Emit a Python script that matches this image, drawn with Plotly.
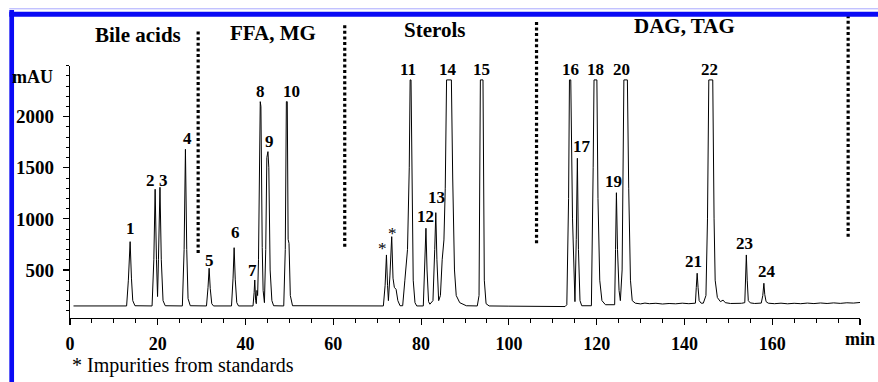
import plotly.graph_objects as go

# ---------------- data ----------------
# chromatogram vertices: retention time (min) and absorbance (mAU)
trace_time = [
    0.8, 3.5, 3.8, 4.1, 5.4, 5.7, 6.0,
    12.9, 13.3, 13.7, 14.0, 14.3, 14.8,
    18.7, 19.1, 19.4, 19.7, 19.95, 20.15, 20.5, 20.8, 21.2, 21.7,
    25.6, 26.0, 26.3, 26.6, 26.9, 27.4,
    31.1, 31.45, 31.7, 31.95, 32.3, 32.7,
    36.8, 37.15, 37.4, 37.65, 38.0, 38.4,
    41.7, 41.95, 42.1, 42.3, 42.45, 42.6, 42.75, 42.95, 43.2, 43.35, 43.5, 43.65, 43.8, 44.0, 44.3,
    44.6, 44.85, 45.1, 45.3, 45.6, 46.0, 46.4,
    48.7, 49.05, 49.3, 49.5, 49.7, 49.9, 50.2, 50.7,
    71.4, 71.8, 72.1, 72.35, 72.55, 72.9, 73.3, 73.6, 73.9, 74.3, 74.7, 75.2,
    75.8, 76.3, 76.9, 77.3, 77.5, 77.7, 77.9, 78.2, 78.6, 79.0,
    80.5, 80.85, 81.1, 81.35, 81.7, 82.0, 82.7, 83.1, 83.35, 83.6, 84.0, 84.4, 84.8, 85.2, 85.5,
    85.8, 86.9, 87.2, 87.6, 88.0, 88.8, 90.3,
    92.8, 93.2, 93.5, 94.1, 94.4, 94.8, 95.5,
    100.0, 105.0, 112.8,
    113.2, 113.6, 113.8, 114.1, 114.5, 114.9, 115.05, 115.35, 115.6, 115.85, 116.2, 116.6,
    118.8, 119.2, 119.4, 120.05, 120.3, 120.7, 121.2, 122.0, 123.5,
    124.1, 124.3, 124.5, 124.75, 125.1, 125.4, 125.8, 126.2, 127.0, 127.3, 127.7, 128.1, 128.8,
    130.0, 131.0, 132.0, 133.5, 135.0, 136.5, 138.0, 139.5, 141.0, 142.3,
    142.5, 142.7, 142.9, 143.1, 143.35, 143.8,
    144.3, 144.9, 145.25, 145.55, 146.45, 146.75, 147.0, 147.5, 148.2, 148.8, 149.3, 150.5,
    151.5, 153.0, 153.75, 153.95, 154.1, 154.3, 154.55, 155.0,
    156.0, 157.5, 157.85, 158.1, 158.3, 158.6, 159.1,
    160.5, 162.0, 163.5, 165.0, 166.5, 168.0, 169.5, 171.0, 172.5, 174.0, 175.5, 177.0, 178.5, 180.0,
]
trace_mau = [
    148, 148, 153, 148, 148, 151, 148,
    148, 400, 777, 420, 200, 150,
    148, 600, 1290, 600, 240, 600, 1309, 600, 200, 150,
    148, 700, 1681, 700, 220, 150,
    148, 330, 517, 320, 170, 148,
    148, 420, 718, 410, 180, 148,
    148, 280, 402, 200, 170, 300, 250, 600, 2100, 2147, 2100, 800, 720, 300, 180,
    700, 1600, 1658, 1500, 500, 200, 150,
    148, 700, 2147, 2147, 800, 760, 250, 150,
    148, 350, 647, 350, 200, 450, 826, 420, 330, 310, 200, 150,
    150, 400, 700, 1500, 2360, 2360, 1200, 400, 180, 148,
    148, 500, 908, 500, 190, 165, 200, 700, 1061, 600, 200, 250, 600, 794, 1300,
    2360, 2360, 1400, 500, 250, 180, 150,
    148, 250, 2360, 2360, 400, 170, 148,
    146, 142, 142,
    160, 1200, 2360, 2360, 1000, 200, 190, 800, 1593, 700, 200, 150,
    150, 1500, 2360, 2360, 1200, 400, 200, 160, 155,
    160, 700, 1256, 700, 300, 200, 500, 2360, 2360, 1300, 400, 200, 175,
    168, 176, 170, 174, 167, 172, 169, 175, 170, 172,
    175, 330, 468, 330, 200, 175,
    175, 250, 1000, 2360, 2360, 1000, 400, 230, 190, 205, 180, 172,
    170, 174, 180, 400, 647, 400, 200, 178,
    172, 176, 250, 370, 260, 190, 175,
    170, 175, 169, 174, 170, 176, 171, 177, 172, 178, 173, 179, 176, 182,
]

# peak labels and visible apex of each peak
peak_names = [str(i) for i in range(1, 25)] + ["*", "*"]
peak_times = [13.7, 19.4, 20.5, 26.3, 31.7, 37.4, 42.1, 43.35, 45.1, 49.4,
              77.6, 81.1, 83.35, 86.35, 93.8, 113.95, 115.6, 119.7, 124.5, 126.6,
              142.9, 146.0, 154.1, 158.1, 72.1, 73.3]
peak_heights = [777, 1290, 1309, 1681, 517, 718, 402, 2147, 1658, 2147,
                2360, 908, 1061, 2360, 2360, 2360, 1593, 2360, 1256, 2360,
                468, 2360, 647, 370, 647, 826]

# compound classes and the dotted dividers between them
section_names = ["Bile acids", "FFA, MG", "Sterols", "DAG, TAG"]
section_times = [15.4, 46.3, 83.1, 140.1]
divider_times = [29.2, 62.6, 106.3, 177.3]
divider_low = [666, 728, 761, 826]
divider_high = [2848, 2897, 2927, 2985]

x_tick_vals = [0, 20, 40, 60, 80, 100, 120, 140, 160, 180]
x_tick_text = ["0", "20", "40", "60", "80", "100", "120", "140", "160", ""]
x_unit = "min"
y_unit = "mAU"
y_tick_vals = [500, 1000, 1500, 2000]
y_tick_text = ["500", "1000", "1500", "2000"]
footnote = "* Impurities from standards"

# ---------------- styling ----------------
SERIF = "Liberation Serif, Times New Roman, serif"
label_shift = {  # (dx, dy) pixel offsets of the peak labels
    "1": (0, 13), "2": (-4.4, 9), "3": (3.3, 7), "4": (2.3, 11), "5": (0, 8),
    "6": (1.4, 15), "7": (-2.1, 9), "8": (0, 10), "9": (2, 10.5), "10": (5, 10),
    "11": (-2.3, 10), "12": (0, 11.5), "13": (1, 15), "14": (-0.7, 10), "15": (0, 10),
    "16": (0, 10), "17": (4.3, 11.5), "18": (0, 10), "19": (-3, 11), "20": (-4, 10),
    "21": (-3.2, 11.5), "22": (-0.8, 10), "23": (-1.4, 11.5), "24": (2.8, 11.5),
}
star_shift = [(-4, 6), (0.6, 3)]
section_levels = [2802, 2819, 2848, 2889]

W_PLOT, H_PLOT = 790, 306

fig = go.Figure()

fig.add_trace(go.Scatter(
    x=trace_time, y=trace_mau, mode="lines",
    line=dict(color="black", width=1), xaxis="x", yaxis="y",
    hoverinfo="skip", showlegend=False,
))

dx, dy = [], []
for t, lo, hi in zip(divider_times, divider_low, divider_high):
    dx += [t, t, None]
    dy += [lo, hi, None]
fig.add_trace(go.Scatter(
    x=dx, y=dy, mode="lines", xaxis="x", yaxis="y2",
    line=dict(color="black", width=3.2, dash="3px,2.6px"),
    hoverinfo="skip", showlegend=False,
))

annotations = []
star_i = 0
for name, t, h in zip(peak_names, peak_times, peak_heights):
    if name == "*":
        sx, sy = star_shift[star_i]
        star_i += 1
        font = dict(family=SERIF, size=17, color="black")
    else:
        sx, sy = label_shift[name]
        font = dict(family=SERIF, size=17, color="black", weight="bold")
    annotations.append(dict(
        x=t, y=h, xref="x", yref="y", text=name, showarrow=False,
        xanchor="center", yanchor="middle", xshift=sx, yshift=sy, font=font,
    ))

for name, t, lvl in zip(section_names, section_times, section_levels):
    annotations.append(dict(
        x=t, y=lvl, xref="x", yref="y2", text=name, showarrow=False,
        xanchor="center", yanchor="middle",
        font=dict(family=SERIF, size=21, color="black", weight="bold"),
    ))

annotations.append(dict(
    x=-0.047, y=0.789, xref="paper", yref="paper", text=y_unit, showarrow=False,
    xanchor="center", yanchor="middle",
    font=dict(family=SERIF, size=18, color="black", weight="bold"),
))
annotations.append(dict(
    x=(877 - 70) / W_PLOT, y=(318 - 339) / H_PLOT, xref="paper", yref="paper",
    text=x_unit, showarrow=False, xanchor="right", yanchor="middle",
    font=dict(family=SERIF, size=18, color="black", weight="bold"),
))
annotations.append(dict(
    x=0.0, y=(318 - 366) / H_PLOT, xref="paper", yref="paper", text=footnote,
    showarrow=False, xanchor="left", yanchor="middle",
    font=dict(family=SERIF, size=20, color="black"),
))

shapes = [
    # blue frame (left and top edges)
    dict(type="line", xref="paper", yref="paper",
         x0=(11.7 - 70) / W_PLOT, x1=(11.7 - 70) / W_PLOT,
         y0=(318 - 10) / H_PLOT, y1=(318 - 390) / H_PLOT,
         line=dict(color="#0a0af5", width=4.7)),
    dict(type="line", xref="paper", yref="paper",
         x0=(9.3 - 70) / W_PLOT, x1=(885 - 70) / W_PLOT,
         y0=(318 - 14.2) / H_PLOT, y1=(318 - 14.2) / H_PLOT,
         line=dict(color="#0a0af5", width=5)),
    dict(type="line", xref="paper", yref="paper",
         x0=(9.3 - 70) / W_PLOT, x1=(885 - 70) / W_PLOT,
         y0=(318 - 8.8) / H_PLOT, y1=(318 - 8.8) / H_PLOT,
         line=dict(color="#a8a8ff", width=1)),
]

y_top_frac = (318 - 65.6) / H_PLOT
y2_top = 30 + H_PLOT / 0.1022

fig.update_layout(
    width=878, height=382,
    margin=dict(l=70, r=18, t=12, b=64),
    paper_bgcolor="white", plot_bgcolor="rgba(0,0,0,0)",
    showlegend=False,
    font=dict(family=SERIF, color="black"),
    xaxis=dict(
        range=[0, 180], anchor="y", showgrid=False, zeroline=False,
        showline=True, linecolor="black", linewidth=1.2,
        ticks="outside", ticklen=6, tickwidth=1.2, tickcolor="black",
        tickmode="array", tickvals=x_tick_vals, ticktext=x_tick_text,
        tickfont=dict(family=SERIF, size=18, color="black", weight="bold"),
        ticklabelstandoff=3,
        minor=dict(dtick=5, tick0=0, ticks="outside", ticklen=3.5,
                   tickwidth=1, tickcolor="black", showgrid=False),
    ),
    yaxis=dict(
        domain=[0, y_top_frac], range=[30, 2500], anchor="x",
        showgrid=False, zeroline=False,
        showline=True, linecolor="black", linewidth=1.2,
        ticks="outside", ticklen=6, tickwidth=1.2, tickcolor="black",
        tickmode="array", tickvals=y_tick_vals, ticktext=y_tick_text,
        tickfont=dict(family=SERIF, size=19, color="black", weight="bold"),
        ticklabelstandoff=5,
        minor=dict(dtick=100, tick0=0, ticks="outside", ticklen=3,
                   tickwidth=1, tickcolor="black", showgrid=False),
    ),
    yaxis2=dict(
        domain=[0, 1], range=[30, y2_top], anchor="x", visible=False,
    ),
    annotations=annotations,
    shapes=shapes,
)

fig.write_html(
    "out.html",
    config={"displayModeBar": False, "staticPlot": True},
    post_script=(
        "document.body.style.margin='0';"
        "document.body.style.padding='0';"
        "document.documentElement.style.overflow='hidden';"
    ),
)
